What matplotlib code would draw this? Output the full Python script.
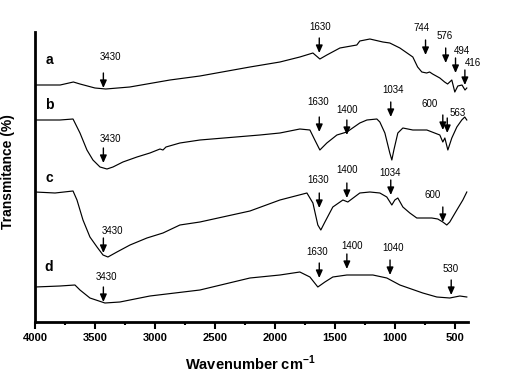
import numpy as np
import matplotlib
matplotlib.use("Agg")
import matplotlib.pyplot as plt
from matplotlib.ticker import MultipleLocator

plt.rcParams['font.family'] = ['Liberation Sans', 'DejaVu Sans']

# spectra (wavenumber, transmittance in arbitrary offset units)
a_wn = [4000, 3790, 3680, 3625, 3500, 3410, 3210, 2875, 2625, 2208, 1958, 1792, 1683, 1625, 1567,
        1458, 1317, 1292, 1208, 1100, 1042, 958, 850, 810, 775, 735, 710, 685, 625, 585, 560, 525,
        500, 475, 440, 415, 400]
a_t = [237, 237, 240, 238, 234, 233, 235, 242, 246, 255, 260, 265, 269, 263, 267,
       274, 277, 281, 283, 280, 279, 274, 265, 255, 250, 249, 250, 248, 244, 240, 238, 242,
       230, 236, 237, 232, 234]

b_wn = [4000, 3792, 3683, 3625, 3567, 3517, 3458, 3400, 3350, 3267, 3150, 3042, 2958, 2933, 2908,
        2792, 2625, 2125, 1958, 1792, 1708, 1667, 1625, 1567, 1483, 1400, 1292, 1233, 1150, 1125,
        1083, 1042, 1025, 1008, 975, 933, 850, 733, 625, 600, 583, 558, 525, 483, 442, 417, 400]
b_t = [202, 202, 203, 189, 172, 162, 155, 153, 155, 160, 165, 169, 173, 172, 175,
       179, 182, 187, 189, 193, 192, 182, 172, 179, 187, 190, 199, 202, 203, 200,
       189, 169, 162, 172, 189, 194, 192, 192, 187, 180, 184, 172, 184, 195, 202, 205, 202]

c_wn = [4000, 3833, 3683, 3650, 3600, 3542, 3483, 3433, 3392, 3317, 3208, 3067, 2933, 2792, 2625,
        2208, 1958, 1733, 1683, 1642, 1617, 1583, 1517, 1433, 1392, 1292, 1208, 1125, 1067, 1025,
        1000, 975, 933, 875, 817, 692, 642, 600, 567, 542, 483, 433, 400]
c_t = [130, 129, 131, 122, 102, 85, 75, 67, 65, 70, 77, 84, 89, 97, 100,
       111, 122, 129, 119, 97, 92, 100, 115, 122, 120, 129, 130, 129, 125, 117,
       122, 124, 115, 109, 104, 104, 103, 100, 97, 100, 112, 122, 130]

d_wn = [4000, 3792, 3667, 3625, 3542, 3417, 3292, 3042, 2625, 2208, 1958, 1792, 1708, 1642, 1583,
        1517, 1400, 1292, 1183, 1067, 958, 767, 650, 542, 458, 400]
d_t = [35, 36, 37, 32, 24, 19, 20, 26, 32, 44, 47, 50, 45, 35, 40,
       45, 47, 47, 47, 44, 37, 29, 25, 24, 26, 25]

curve_names = ['a', 'b', 'c', 'd']
name_y = [262, 217, 144, 55]

# peak marks: label, arrow tip, label position (x, y)
a_peaks = ['3430', '1630', '744', '576', '494', '416']
a_tip = [234, 269, 267, 259, 249, 237]
a_lab = [(3375, 265), (1625, 295), (775, 294), (583, 286), (442, 271), (350, 259)]

b_peaks = ['3430', '1630', '1400', '1034', '600', '563']
b_tip = [159, 190, 187, 205, 192, 189]
b_lab = [(3375, 183), (1642, 220), (1400, 212), (1017, 232), (708, 218), (475, 209)]

c_peaks = ['3430', '1630', '1400', '1034', '600']
c_tip = [69, 114, 124, 127, 100]
c_lab = [(3358, 91), (1642, 142), (1400, 152), (1042, 149), (683, 127)]

d_peaks = ['3430', '1630', '1400', '1040', '530']
d_tip = [20, 44, 53, 47, 27]
d_lab = [(3408, 45), (1650, 70), (1358, 76), (1017, 74), (533, 53)]

fig = plt.figure(figsize=(5.05, 3.76), dpi=100)
ax = fig.add_axes([35/505, 54/376, 433/505, 290/376])

for wn, t in [(a_wn, a_t), (b_wn, b_t), (c_wn, c_t), (d_wn, d_t)]:
    ax.plot(wn, t, color='black', lw=0.85, solid_joinstyle='round')

for name, y in zip(curve_names, name_y):
    ax.text(3883, y, name, fontsize=10, fontweight='bold', ha='center', va='center')

arrow_len = 15
for peaks, tips, labs in [(a_peaks, a_tip, a_lab), (b_peaks, b_tip, b_lab),
                          (c_peaks, c_tip, c_lab), (d_peaks, d_tip, d_lab)]:
    for p, tip, (lx, ly) in zip(peaks, tips, labs):
        x = float(p)
        ax.annotate('', xy=(x, tip), xytext=(x, tip + arrow_len),
                    arrowprops=dict(arrowstyle='-|>,head_length=0.45,head_width=0.2',
                                    color='black', lw=1.0, shrinkA=0, shrinkB=0))
        ax.text(lx, ly, p, fontsize=7, ha='center', va='center', clip_on=False)

ax.set_xlim(4000, 390)
ax.set_ylim(0, 290)
ax.xaxis.set_major_locator(MultipleLocator(500))
ax.xaxis.set_minor_locator(MultipleLocator(250))
ax.set_yticks([])
ax.tick_params(axis='x', which='major', length=5, width=1.5, direction='out', pad=3,
               labelsize=8)
ax.tick_params(axis='x', which='minor', length=2.5, width=1.5, direction='out')
for lbl in ax.get_xticklabels():
    lbl.set_fontweight('bold')

for s in ['top', 'right']:
    ax.spines[s].set_visible(False)
ax.spines['left'].set_linewidth(2)
ax.spines['bottom'].set_linewidth(2)

ax.set_xlabel('Wavenumber cm$^{\\mathregular{-1}}$', fontsize=10.5, fontweight='bold')
ax.xaxis.set_label_coords(0.497, -0.11)
ax.set_ylabel('Transmitance (%)', fontsize=10, fontweight='bold')
ax.yaxis.set_label_coords(-0.046, 0.52)

fig.savefig('out.png', dpi=100)
